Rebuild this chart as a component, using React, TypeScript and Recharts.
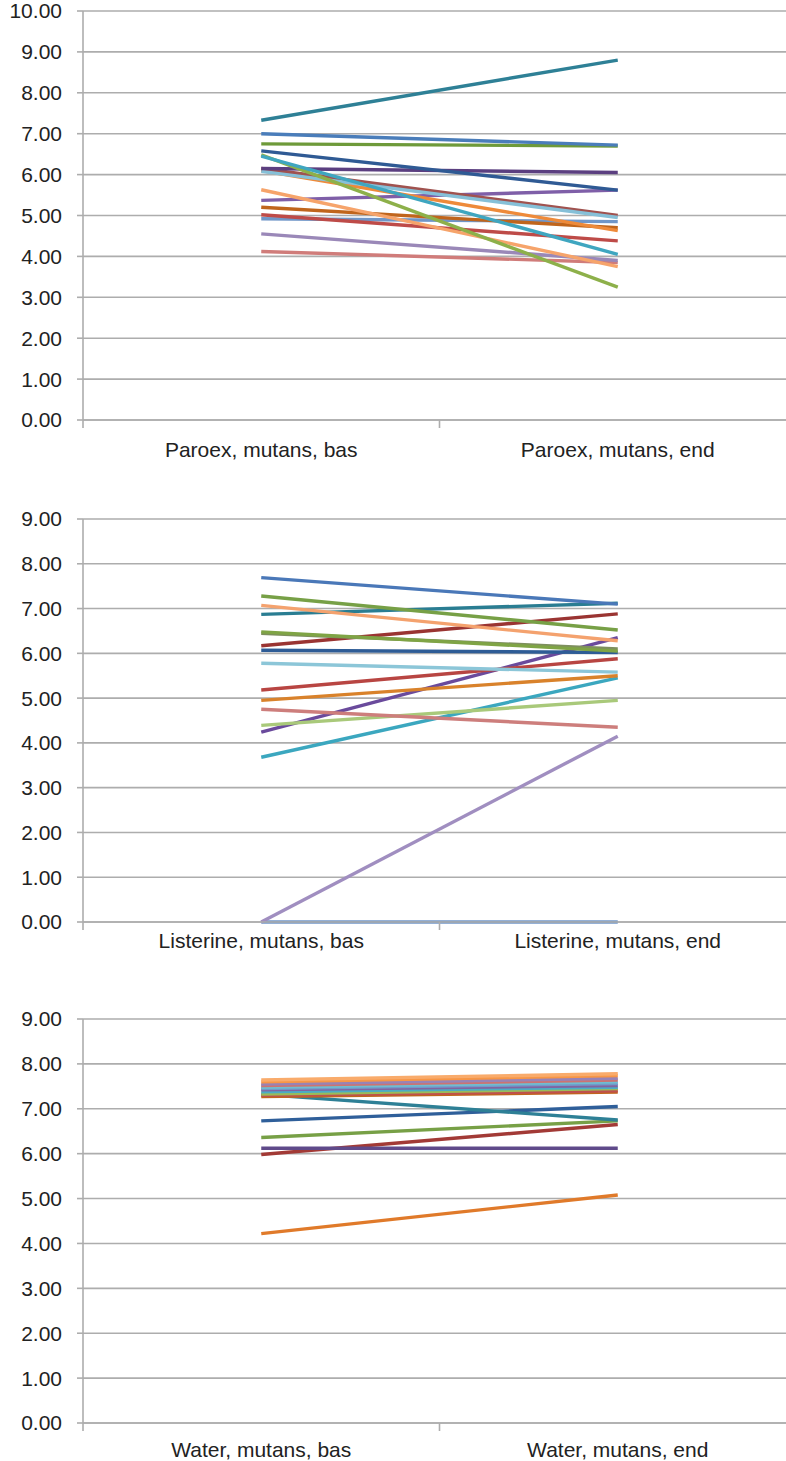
import React from 'react';
import { LineChart, Line, XAxis, YAxis, CartesianGrid } from 'recharts';

// ---------- Panel 1: Paroex ----------
const paroexCategories = ['Paroex, mutans, bas', 'Paroex, mutans, end'];
const paroexBas = [4.12, 4.55, 4.92, 5.02, 5.2, 5.37, 5.63, 6.1, 6.15, 6.08, 6.15, 6.48, 6.45, 6.58, 6.75, 7.0, 7.33];
const paroexEnd = [3.85, 3.9, 4.85, 4.38, 4.7, 5.62, 3.75, 4.63, 5.0, 4.95, 6.05, 3.25, 4.05, 5.62, 6.7, 6.72, 8.8];
const paroexColors = ['#D07C7A', '#9A88B8', '#7096C8', '#BE4B48', '#C0651C', '#7F5FA8', '#F6A46B', '#EE8A3A', '#A0524F', '#86C0D8', '#5B3F80', '#8DB04A', '#3FA6C0', '#2F5A94', '#6E9A3A', '#4A7DBA', '#2E8096'];

// ---------- Panel 2: Listerine ----------
const listerineCategories = ['Listerine, mutans, bas', 'Listerine, mutans, end'];
const listerineBas = [0, 0, 3.68, 4.24, 4.39, 4.75, 4.95, 5.18, 5.78, 6.07, 6.17, 6.45, 6.48, 6.87, 7.07, 7.28, 7.69];
const listerineEnd = [0, 4.15, 5.45, 6.35, 4.95, 4.35, 5.5, 5.88, 5.58, 6.02, 6.88, 6.1, 6.05, 7.12, 6.28, 6.52, 7.1];
const listerineColors = ['#7096C8', '#A08EC0', '#3BA7BF', '#6A4A9C', '#A9C97A', '#CD7E7C', '#D9822B', '#B84542', '#8CC6D8', '#2E5C96', '#9A3432', '#7E8F5E', '#7FA445', '#2A7D92', '#F4A26E', '#77A046', '#4A78B8'];

// ---------- Panel 3: Water ----------
const waterCategories = ['Water, mutans, bas', 'Water, mutans, end'];
const waterBas = [4.22, 5.98, 6.12, 6.36, 6.73, 7.32, 7.27, 7.3, 7.33, 7.38, 7.42, 7.45, 7.48, 7.52, 7.55, 7.6, 7.64];
const waterEnd = [5.08, 6.65, 6.12, 6.73, 7.05, 6.75, 7.37, 7.4, 7.45, 7.48, 7.52, 7.56, 7.6, 7.64, 7.68, 7.74, 7.78];
const waterColors = ['#E07A2A', '#A23A36', '#5F4A8A', '#77A046', '#2F5F9A', '#2E8096', '#C0651C', '#C0504D', '#9BBB59', '#4BACC6', '#8064A2', '#729ACA', '#6FBDD1', '#CD7371', '#9983B5', '#F79646', '#F9AB6B'];

const yTicks10 = [0, 1, 2, 3, 4, 5, 6, 7, 8, 9, 10];
const yTicks9 = [0, 1, 2, 3, 4, 5, 6, 7, 8, 9];
const xTicks = [0, 0.5, 1, 1.5, 2];

const FONT = '"Liberation Sans", Arial, Helvetica, sans-serif';
const GRID = '#adadad';
const TEXT = '#222222';
const FS = 21;

function buildRows(bas: number[], end: number[]) {
  const r0: any = { x: 0.5 };
  const r1: any = { x: 1.5 };
  bas.forEach((v, i) => {
    r0['s' + i] = v;
    r1['s' + i] = end[i];
  });
  return [r0, r1];
}

const makeXTick = (cats: string[], labelOffset: number) => (props: any) => {
  const { x, y, payload } = props;
  const v = payload.value;
  if (Number.isInteger(v)) {
    return <line x1={x} x2={x} y1={y} y2={y + 8} stroke={GRID} strokeWidth={1.6} />;
  }
  return (
    <text x={x} y={y + labelOffset} textAnchor="middle" fill={TEXT} fontSize={FS} fontFamily={FONT}>
      {cats[Math.floor(v)]}
    </text>
  );
};

type PanelProps = {
  top: number;
  marginTop: number;
  plotHeight: number;
  bottomH: number;
  cats: string[];
  bas: number[];
  end: number[];
  colors: string[];
  ymax: number;
  yTicks: number[];
  labelOffset: number;
};

function Panel(p: PanelProps) {
  const data = buildRows(p.bas, p.end);
  const height = p.marginTop + p.plotHeight + p.bottomH;
  return (
    <div style={{ position: 'absolute', left: 0, top: p.top }}>
      <LineChart width={800} height={height} data={data} margin={{ top: p.marginTop, right: 4, bottom: 0, left: 0 }}>
        <CartesianGrid vertical={false} stroke={GRID} strokeWidth={1.6} />
        <XAxis
          dataKey="x"
          type="number"
          domain={[0, 2]}
          ticks={xTicks}
          interval={0}
          tickSize={0}
          tickMargin={0}
          height={p.bottomH}
          tickLine={false}
          axisLine={{ stroke: GRID, strokeWidth: 1.6 }}
          tick={makeXTick(p.cats, p.labelOffset)}
        />
        <YAxis
          type="number"
          domain={[0, p.ymax]}
          ticks={p.yTicks}
          interval={0}
          width={83}
          tickSize={6}
          tickMargin={15}
          axisLine={{ stroke: GRID, strokeWidth: 1.6 }}
          tickLine={{ stroke: GRID, strokeWidth: 1.6 }}
          tick={{ fill: TEXT, fontSize: FS, fontFamily: FONT }}
          tickFormatter={(v: number) => v.toFixed(2)}
        />
        {p.bas.map((_, i) => (
          <Line
            key={i}
            type="linear"
            dataKey={'s' + i}
            stroke={p.colors[i]}
            strokeWidth={3.4}
            dot={false}
            activeDot={false}
            isAnimationActive={false}
          />
        ))}
      </LineChart>
    </div>
  );
}

export default function App() {
  return (
    <div style={{ position: 'absolute', left: 0, top: 0, width: 786, height: 1461, overflow: 'hidden', background: '#fff' }}>
      <Panel top={0} marginTop={11} plotHeight={409} bottomH={45} cats={paroexCategories} bas={paroexBas} end={paroexEnd} colors={paroexColors} ymax={10} yTicks={yTicks10} labelOffset={37} />
      <Panel top={500} marginTop={19} plotHeight={403} bottomH={40} cats={listerineCategories} bas={listerineBas} end={listerineEnd} colors={listerineColors} ymax={9} yTicks={yTicks9} labelOffset={26} />
      <Panel top={1000} marginTop={19} plotHeight={404} bottomH={40} cats={waterCategories} bas={waterBas} end={waterEnd} colors={waterColors} ymax={9} yTicks={yTicks9} labelOffset={34} />
    </div>
  );
}
